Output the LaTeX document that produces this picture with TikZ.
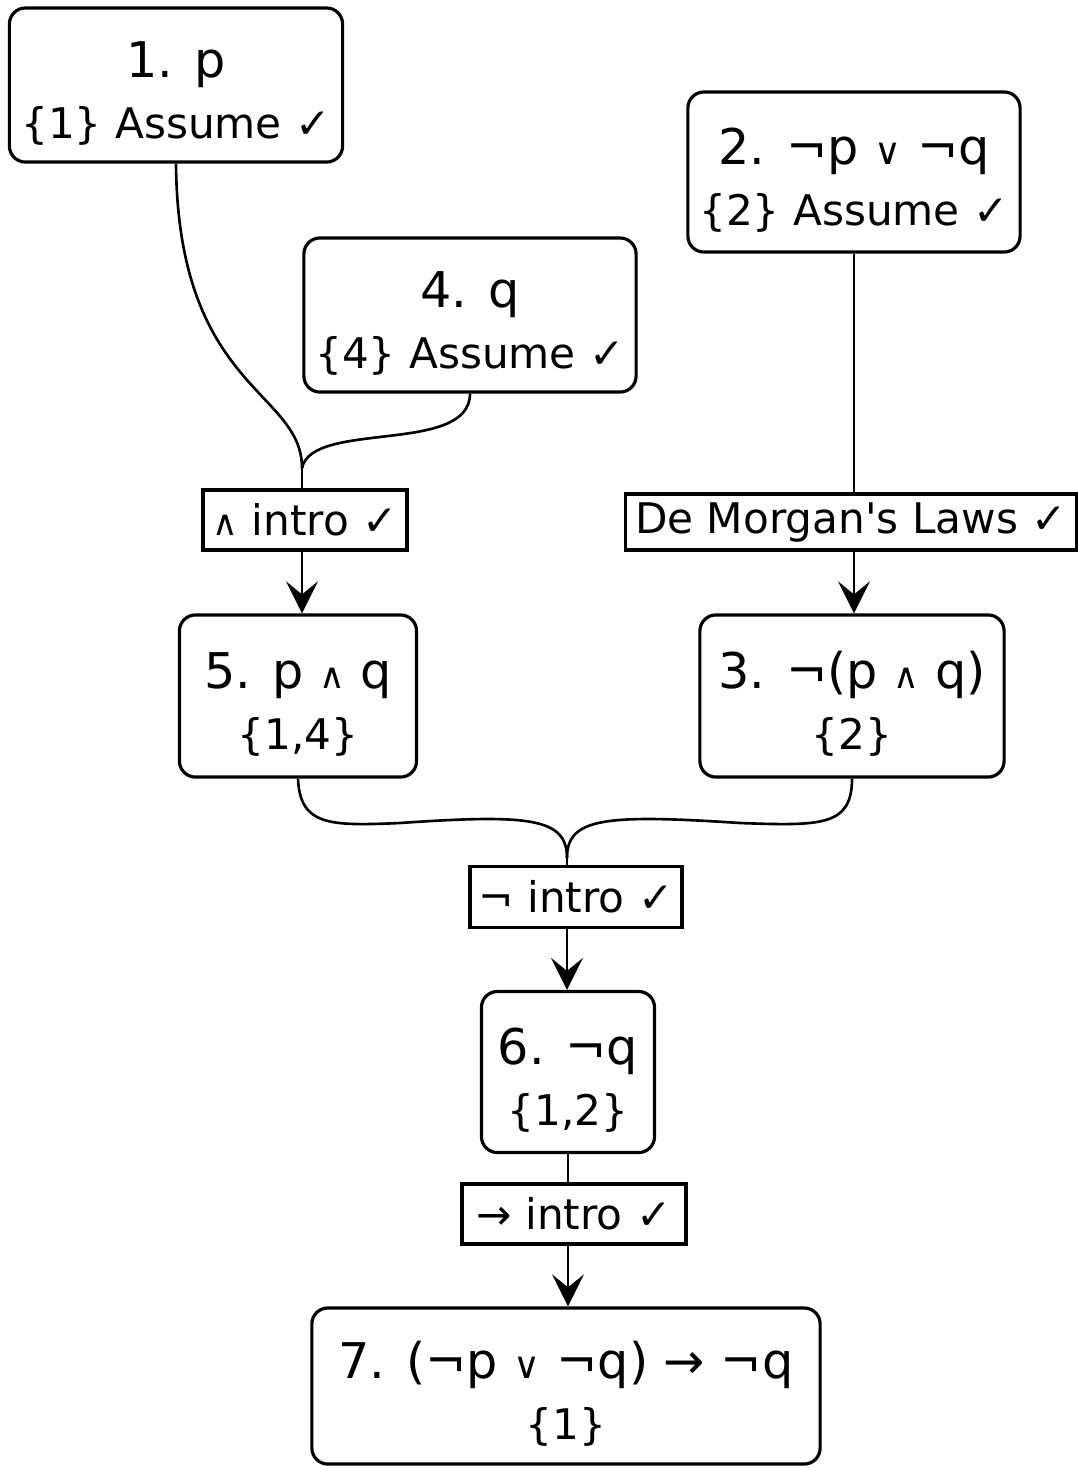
\documentclass[tikz,border=0pt]{standalone}
\usepackage{fontspec}
\setmainfont{DejaVu Sans}[Ligatures=TeXOff]
\usepackage{tikz}
\usetikzlibrary{arrows.meta, positioning}
\newcommand{\stepfont}{\fontsize{12}{17.6}\selectfont}
\newcommand{\headfont}{\fontsize{14}{17.6}\selectfont\rule{0pt}{15pt}}
\newcommand{\wedgesym}{{\fontsize{10}{10}\selectfont ∧}}
\newcommand{\veesym}{{\fontsize{10.5}{10}\selectfont ∨}}

\begin{document}
\begin{tikzpicture}[
      x=0.01cm, y=-0.01cm,
      stepbox/.style={draw, line width=0.9pt, rounded corners=1.6mm,
                      align=center, font=\stepfont, inner sep=0pt},
      rulebox/.style={draw, line width=0.9pt, inner xsep=1pt, inner ysep=0pt,
                      font=\stepfont},
      line/.style={line width=0.75pt},
      arr/.style={-{Stealth[length=3.2mm, width=3.2mm, inset=1.3mm]}, line width=0.75pt}
    ]
    \useasboundingbox (0,0) rectangle (1078,1468);

    \node[stepbox, minimum width=3.33cm, minimum height=1.54cm] (s1) at (176,85)
      {{\headfont 1. p}\\\{1\} Assume ✓};
    \node[stepbox, minimum width=3.32cm, minimum height=1.60cm] (s2) at (854,172)
      {{\headfont 2. ¬p \veesym\ ¬q}\\\{2\} Assume ✓};
    \node[stepbox, minimum width=3.32cm, minimum height=1.54cm] (s4) at (470,315)
      {{\headfont 4. q}\\\{4\} Assume ✓};

    \node[rulebox, minimum width=2.04cm, minimum height=0.60cm] (r1) at (305,520)
      {\wedgesym\ intro ✓};
    \node[rulebox, minimum width=4.50cm, minimum height=0.56cm] (r2) at (851,522)
      {De Morgan's Laws ✓};

    \node[stepbox, minimum width=2.37cm, minimum height=1.62cm] (s5) at (298,696)
      {{\headfont 5. p \wedgesym\ q}\\\{1,4\}};
    \node[stepbox, minimum width=3.04cm, minimum height=1.62cm] (s3) at (852,696)
      {{\headfont 3. ¬(p \wedgesym\ q)}\\\{2\}};

    \node[rulebox, minimum width=2.12cm, minimum height=0.61cm] (r3) at (576,897)
      {¬ intro ✓};
    \node[stepbox, minimum width=1.73cm, minimum height=1.61cm] (s6) at (568,1072)
      {{\headfont 6. ¬q}\\\{1,2\}};
    \node[rulebox, minimum width=2.24cm, minimum height=0.60cm] (r4) at (574,1214)
      {→ intro ✓};
    \node[stepbox, minimum width=5.08cm, minimum height=1.56cm] (s7) at (566,1386)
      {{\headfont 7. (¬p \veesym\ ¬q) → ¬q}\\\{1\}};

    \coordinate (j1) at (302,468);
    \coordinate (j2) at (567,858);

    \draw[line] (s1.south) .. controls (178,390) and (302,390) .. (j1);
    \draw[line] (s4.south) .. controls (470,455) and (312,420) .. (j1);
    \draw[line] (j1) -- (j1 |- r1.north);
    \draw[arr] (j1 |- r1.south) -- (j1 |- s5.north);

    \draw[line] (s2.south) -- (s2.south |- r2.north);
    \draw[arr] (s2.south |- r2.south) -- (s2.south |- s3.north);

    \draw[line] (s5.south) .. controls (300,826) and (330,826) .. (400,823)
      .. controls (530,814) and (567,818) .. (j2);
    \draw[line] (s3.south) .. controls (852,826) and (822,826) .. (740,823)
      .. controls (604,814) and (567,818) .. (j2);
    \draw[line] (j2) -- (j2 |- r3.north);
    \draw[arr] (j2 |- r3.south) -- (j2 |- s6.north);

    \draw[line] (s6.south) -- (s6.south |- r4.north);
    \draw[arr] (s6.south |- r4.south) -- (s6.south |- s7.north);
  \end{tikzpicture}
\end{document}
